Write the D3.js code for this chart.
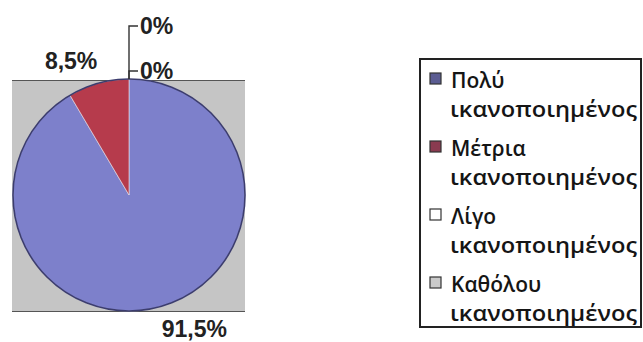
<!DOCTYPE html>
<html>
	<head>
		<meta charset="UTF-8" />
		<title>Pie</title>
		<style>
			html, body {
				margin: 0;
				padding: 0;
				background: #fff;
				overflow: hidden;
			}
			.lbl {
				font-family: "Liberation Sans", Arial, sans-serif;
				font-weight: bold;
				font-size: 23px;
				fill: #222;
			}
			.leg {
				font-family: "Open Sans", sans-serif;
				font-weight: 600;
				font-size: 21px;
				fill: #151515;
			}
		</style>
		<script src="https://d3js.org/d3.v7.min.js"></script>
	</head>
	<body>
		<svg></svg>
		<script>
			// data
			let categories = [['Πολύ', 'ικανοποιημένος'], ['Μέτρια', 'ικανοποιημένος'], ['Λίγο', 'ικανοποιημένος'], ['Καθόλου', 'ικανοποιημένος']];
			let values = [91.5, 8.5, 0, 0];
			let valueLabels = ['91,5%', '8,5%', '0%', '0%'];

			let sliceColors = ['#7d80cb', '#b63b4c', '#ffffff', '#c4c4c4'];
			let swatchColors = ['#5b5c92', '#8a3b50', '#ffffff', '#cacaca'];

			let width = 643, height = 342;
			let svg = d3.select('svg').attr('width', width).attr('height', height);

			let cx = 129, cy = 195, r = 116;

			// plot area
			svg.append('rect')
				.attr('x', 12).attr('y', 80)
				.attr('width', 233).attr('height', 231)
				.attr('fill', '#c5c5c5');
			svg.append('line').attr('x1', 12).attr('x2', 245).attr('y1', 80.5).attr('y2', 80.5).attr('stroke', '#555');
			svg.append('line').attr('x1', 12).attr('x2', 245).attr('y1', 311.5).attr('y2', 311.5).attr('stroke', '#555');

			let pie = d3.pie().sort(null).value(d => d);
			let arcs = pie(values);
			let arc = d3.arc().innerRadius(0).outerRadius(r);

			let g = svg.append('g').attr('transform', `translate(${cx},${cy})`);
			g.selectAll('path')
				.data(arcs.filter(a => a.value > 0))
				.enter().append('path')
				.attr('d', arc)
				.attr('fill', (d) => sliceColors[d.index])
				.attr('stroke', '#e8e8f0')
				.attr('stroke-width', 0.6);

			// dark rim
			g.append('circle')
				.attr('r', r)
				.attr('fill', 'none')
				.attr('stroke', '#3c3d6e')
				.attr('stroke-width', 1.6);

			// labels
			let R = 139;
			let zeroCount = 0;
			arcs.forEach((a, i) => {
				let mid = (a.startAngle + a.endAngle) / 2;
				if (a.value > 0) {
					let x = cx + Math.sin(mid) * R;
					let y = cy - Math.cos(mid) * R;
					let right = Math.sin(mid) > 0;
					svg.append('text')
						.attr('class', 'lbl')
						.attr('x', right ? x - 4 : x + 5)
						.attr('y', y)
						.attr('dominant-baseline', 'central')
						.attr('text-anchor', right ? 'start' : 'end')
						.text(valueLabels[i]);
				} else {
					let px = cx + Math.sin(mid) * r;
					let py = cy - Math.cos(mid) * r;
					let ly = py - 8 - zeroCount * 45;
					svg.append('path')
						.attr('d', `M${px},${py} L${px},${ly} L${px + 9},${ly}`)
						.attr('fill', 'none')
						.attr('stroke', '#333')
						.attr('stroke-width', 1.4);
					svg.append('text')
						.attr('class', 'lbl')
						.attr('x', px + 11)
						.attr('y', ly)
						.attr('dominant-baseline', 'central')
						.text(valueLabels[i]);
					zeroCount++;
				}
			});

			// legend
			let legend = svg.append('g');
			legend.append('rect')
				.attr('x', 420).attr('y', 59)
				.attr('width', 221).attr('height', 268)
				.attr('fill', '#fff')
				.attr('stroke', '#222')
				.attr('stroke-width', 2);

			let item = legend.selectAll('g.item')
				.data(categories)
				.enter().append('g')
				.attr('class', 'item')
				.attr('transform', (d, i) => `translate(0,${88 + i * 68})`);

			item.append('rect')
				.attr('x', 430).attr('y', -15)
				.attr('width', 11).attr('height', 11)
				.attr('fill', (d, i) => swatchColors[i])
				.attr('stroke', '#333')
				.attr('stroke-width', 1.2);

			item.append('text')
				.attr('class', 'leg')
				.attr('x', 451).attr('y', 0)
				.text(d => d[0]);

			item.append('text')
				.attr('class', 'leg')
				.attr('x', 450).attr('y', 29)
				.attr('textLength', 187)
				.attr('lengthAdjust', 'spacingAndGlyphs')
				.text(d => d[1]);
		</script>
	</body>
</html>
